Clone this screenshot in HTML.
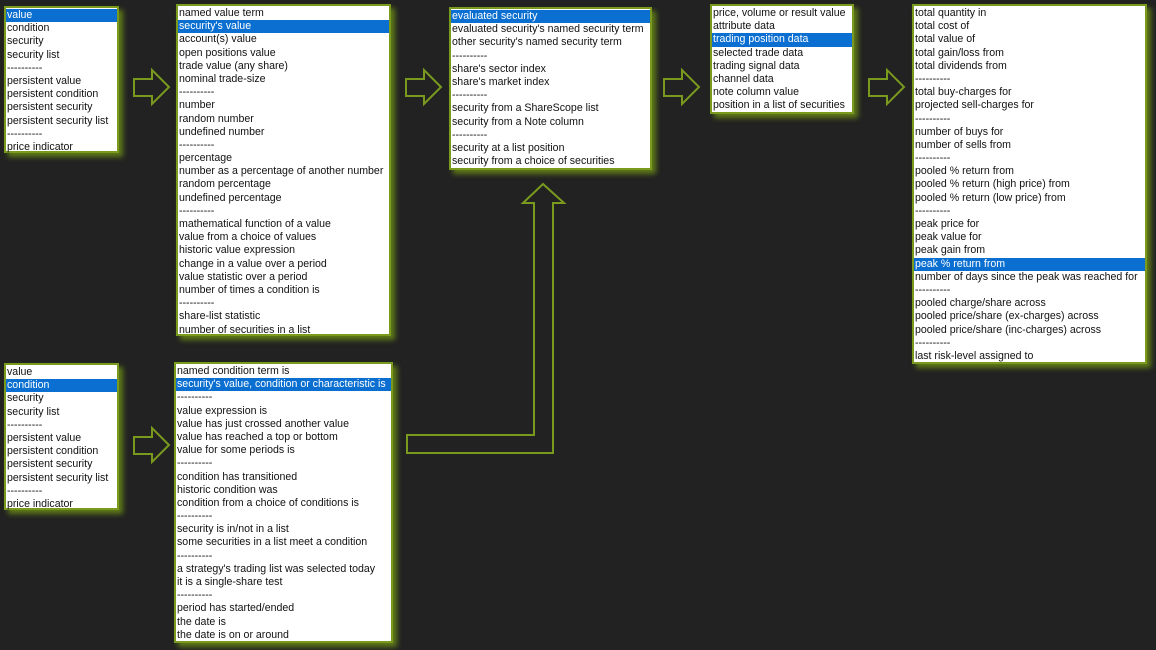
<!DOCTYPE html>
<html><head><style>
body{margin:0;width:1156px;height:650px;background:#222;overflow:hidden;position:relative;font-family:"Liberation Sans",Arial,sans-serif}
.b{position:absolute;background:#fff;border:2px solid #7a9a1e;box-shadow:4px 4px 5px #5f7a18;font-size:10.6px;line-height:13.2px;color:#111;padding-top:1px;box-sizing:content-box}
.b div{padding-left:1px;white-space:nowrap;height:13.2px}
.b .s{background:#0a6fd0;color:#fff}
svg{position:absolute;left:0;top:0}
</style></head><body>
<svg width="1156" height="650">
<g fill="none" stroke="#7a9a1e" stroke-width="2">
<polygon points="134,79 152,79 152,70 169,87 152,104 152,96 134,96"/>
<polygon points="406,79 424,79 424,70 441,87 424,104 424,96 406,96"/>
<polygon points="664,79 682,79 682,70 699,87 682,104 682,96 664,96"/>
<polygon points="869,79 887,79 887,70 904,87 887,104 887,96 869,96"/>
<polygon points="134,437 152,437 152,428 169,445 152,462 152,454 134,454"/>
<polygon points="407,435 534,435 534,203 523,203 543,184 564,203 553,203 553,453 407,453"/>
</g></svg>

<div class="b" style="left:4px;top:6px;width:111px;height:142px">
<div class="s">value</div><div>condition</div><div>security</div><div>security list</div><div>----------</div><div>persistent value</div><div>persistent condition</div><div>persistent security</div><div>persistent security list</div><div>----------</div><div>price indicator</div></div>

<div class="b" style="left:176px;top:4px;width:211px;height:327px">
<div>named value term</div><div class="s">security's value</div><div>account(s) value</div><div>open positions value</div><div>trade value (any share)</div><div>nominal trade-size</div><div>----------</div><div>number</div><div>random number</div><div>undefined number</div><div>----------</div><div>percentage</div><div>number as a percentage of another number</div><div>random percentage</div><div>undefined percentage</div><div>----------</div><div>mathematical function of a value</div><div>value from a choice of values</div><div>historic value expression</div><div>change in a value over a period</div><div>value statistic over a period</div><div>number of times a condition is</div><div>----------</div><div>share-list statistic</div><div>number of securities in a list</div></div>

<div class="b" style="left:4px;top:363px;width:111px;height:142px">
<div>value</div><div class="s">condition</div><div>security</div><div>security list</div><div>----------</div><div>persistent value</div><div>persistent condition</div><div>persistent security</div><div>persistent security list</div><div>----------</div><div>price indicator</div></div>

<div class="b" style="left:174px;top:362px;width:215px;height:276px">
<div>named condition term is</div><div class="s">security's value, condition or characteristic is</div><div>----------</div><div>value expression is</div><div>value has just crossed another value</div><div>value has reached a top or bottom</div><div>value for some periods is</div><div>----------</div><div>condition has transitioned</div><div>historic condition was</div><div>condition from a choice of conditions is</div><div>----------</div><div>security is in/not in a list</div><div>some securities in a list meet a condition</div><div>----------</div><div>a strategy's trading list was selected today</div><div>it is a single-share test</div><div>----------</div><div>period has started/ended</div><div>the date is</div><div>the date is on or around</div></div>

<div class="b" style="left:449px;top:7px;width:199px;height:158px">
<div class="s">evaluated security</div><div>evaluated security's named security term</div><div>other security's named security term</div><div>----------</div><div>share's sector index</div><div>share's market index</div><div>----------</div><div>security from a ShareScope list</div><div>security from a Note column</div><div>----------</div><div>security at a list position</div><div>security from a choice of securities</div></div>

<div class="b" style="left:710px;top:4px;width:140px;height:105px">
<div>price, volume or result value</div><div>attribute data</div><div class="s">trading position data</div><div>selected trade data</div><div>trading signal data</div><div>channel data</div><div>note column value</div><div>position in a list of securities</div></div>

<div class="b" style="left:912px;top:4px;width:231px;height:355px">
<div>total quantity in</div><div>total cost of</div><div>total value of</div><div>total gain/loss from</div><div>total dividends from</div><div>----------</div><div>total buy-charges for</div><div>projected sell-charges for</div><div>----------</div><div>number of buys for</div><div>number of sells from</div><div>----------</div><div>pooled % return from</div><div>pooled % return (high price) from</div><div>pooled % return (low price) from</div><div>----------</div><div>peak price for</div><div>peak value for</div><div>peak gain from</div><div class="s">peak % return from</div><div>number of days since the peak was reached for</div><div>----------</div><div>pooled charge/share across</div><div>pooled price/share (ex-charges) across</div><div>pooled price/share (inc-charges) across</div><div>----------</div><div>last risk-level assigned to</div></div>
</body></html>
